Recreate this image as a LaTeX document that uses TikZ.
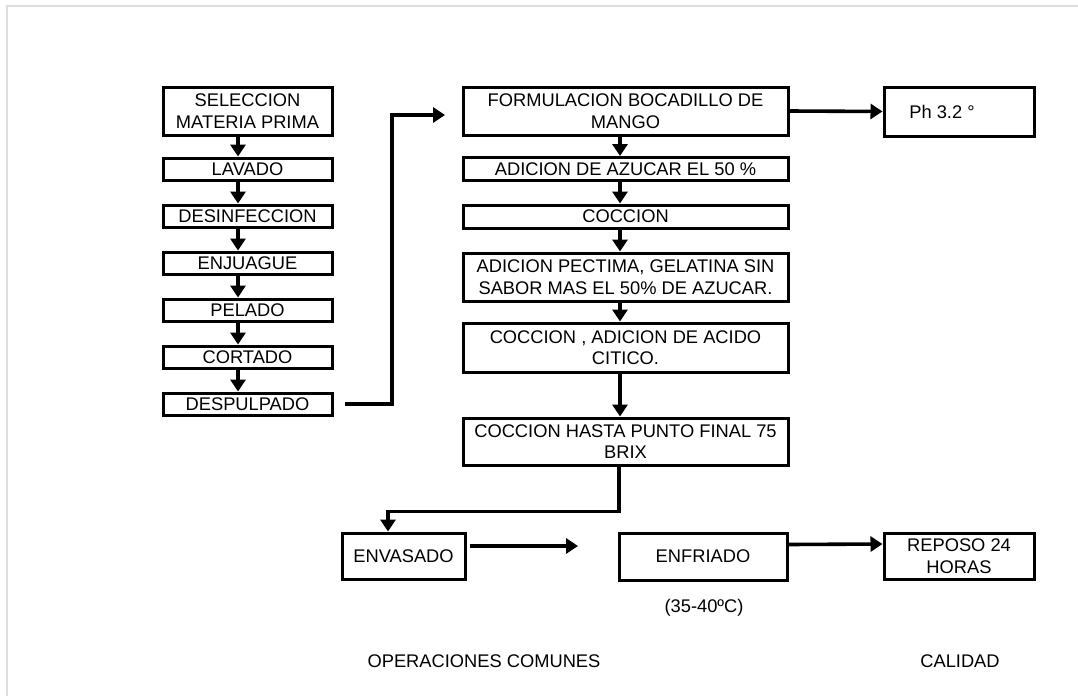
\documentclass[tikz,border=0pt]{standalone}
\usepackage{fontspec}
\setmainfont{Liberation Sans}
\usetikzlibrary{arrows.meta}
\definecolor{framegray}{HTML}{DEDEDE}
\begin{document}
\begin{tikzpicture}[x=1pt,y=-1pt,
  box/.style={draw, line width=3pt, inner sep=0pt, align=center, font=\fontsize{18.3}{21.5}\selectfont},
  lbox/.style={box, minimum width=169pt},
  mbox/.style={box, minimum width=325pt},
  conn/.style={line width=3.6pt, -{Triangle[length=12pt,width=15pt]}},
  lbl/.style={font=\fontsize{18.3}{21.5}\selectfont}]
\useasboundingbox (0,0) rectangle (1078,696);
\draw[line width=2pt, framegray] (7,696) -- (7,6) -- (1078,6);

% left column
\node[lbox, minimum height=48pt] (sel) at (247.5,111) {SELECCION\\MATERIA PRIMA};
\node[lbox, minimum height=22pt] (lav) at (247.5,169) {LAVADO};
\node[lbox, minimum height=22pt] (des) at (247.5,216) {DESINFECCION};
\node[lbox, minimum height=22pt] (enj) at (247.5,263) {ENJUAGUE};
\node[lbox, minimum height=22pt] (pel) at (247.5,310) {PELADO};
\node[lbox, minimum height=22pt] (cor) at (247.5,357) {CORTADO};
\node[lbox, minimum height=22pt] (dsp) at (247.5,404) {DESPULPADO};

% middle column
\node[mbox, minimum height=48pt] (form) at (625.5,111) {FORMULACION BOCADILLO DE\\MANGO};
\node[mbox, minimum height=23pt] (az) at (625.5,169) {ADICION DE AZUCAR EL 50 \%};
\node[mbox, minimum height=23pt] (coc) at (625.5,216.5) {COCCION};
\node[mbox, minimum height=48pt] (pec) at (625.5,277) {ADICION PECTIMA, GELATINA SIN\\SABOR MAS EL 50\% DE AZUCAR.};
\node[mbox, minimum height=49pt] (acid) at (625.5,347.5) {COCCION , ADICION DE ACIDO\\CITICO.};
\node[mbox, minimum height=47pt] (hasta) at (625.5,441.5) {COCCION HASTA PUNTO FINAL 75\\BRIX};

% right column
\node[box, minimum width=150pt, minimum height=49pt] (ph) at (959,111.5) {Ph 3.2 °\hspace*{34pt}};

% bottom row
\node[box, minimum width=123pt, minimum height=46pt] (env) at (403.5,556) {ENVASADO};
\node[box, minimum width=168pt, minimum height=47pt] (enf) at (703,556.5) {ENFRIADO};
\node[box, minimum width=150pt, minimum height=46pt] (rep) at (959,556) {REPOSO 24\\HORAS};
\node[lbl] (temp) at (704,608) {(35-40ºC)};
\node[lbl] (ops) at (484,661) {OPERACIONES COMUNES};
\node[lbl] (cal) at (960,661) {CALIDAD};

% connectors left
\foreach \a/\b in {sel/lav, lav/des, des/enj, enj/pel, pel/cor, cor/dsp}
  \draw[conn] ([xshift=-9.5pt]\a.south) -- ([xshift=-9.5pt]\b.north);
% connectors middle
\foreach \a/\b in {form/az, az/coc, coc/pec, pec/acid, acid/hasta}
  \draw[conn] ([xshift=-5.5pt]\a.south) -- ([xshift=-5.5pt]\b.north);

\coordinate (c1) at (445,115);
\draw[conn] ([xshift=11pt]dsp.east) -| (392,115) -- (c1);
\draw[conn] (form.east) -- (ph.west);
\draw[conn] ([xshift=-6.5pt]hasta.south) -- ++(0,45) -| ([xshift=-15.5pt]env.north);
\coordinate (c2) at (578,546);
\draw[conn] ([xshift=3pt]env.east |- c2) -- (c2);
\draw[conn] ([yshift=12pt]enf.east) -- ([yshift=12pt]rep.west);
\end{tikzpicture}
\end{document}
